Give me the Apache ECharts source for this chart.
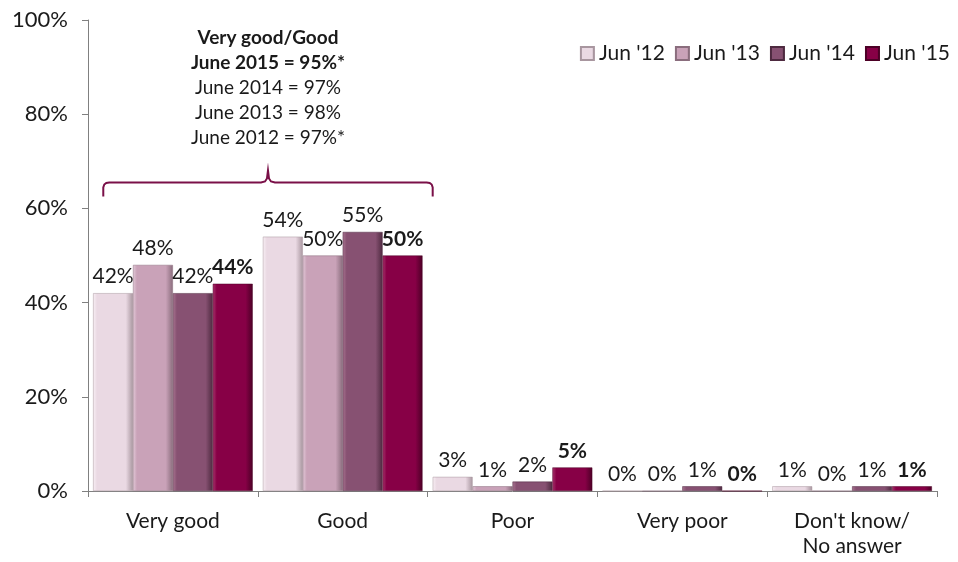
<!DOCTYPE html>
<html>
<head>
<meta charset="utf-8">
<script src="https://cdn.jsdelivr.net/npm/echarts@6/dist/echarts.min.js"></script>
<style>html,body{margin:0;padding:0;background:#fff}#c{width:958px;height:562px}</style>
</head>
<body>
<div id="c"></div>
<script>
const categories = ["Very good", "Good", "Poor", "Very poor", "Don't know/\nNo answer"];
const seriesNames = ["Jun '12", "Jun '13", "Jun '14", "Jun '15"];
const jun12 = [42, 54, 3, 0, 1];
const jun13 = [48, 50, 1, 0, 0];
const jun14 = [42, 55, 2, 1, 1];
const jun15 = [44, 50, 5, 0, 1];
const yTicks = [0, 20, 40, 60, 80, 100];
const noteLines = ["Very good/Good", "June 2015 = 95%*", "June 2014 = 97%", "June 2013 = 98%", "June 2012 = 97%*"];

const FONT = 'Lato';
const palette = [
  {base: '#ead9e3', light: '#f8eff4', dark: '#a8969f'},
  {base: '#c9a2b8', light: '#e2c9d7', dark: '#8a6d7d'},
  {base: '#875172', light: '#a8738f', dark: '#4e2a40'},
  {base: '#870046', light: '#a8336c', dark: '#4c0026'}
];
function grad(p) {
  return new echarts.graphic.LinearGradient(0, 0, 1, 0, [
    {offset: 0, color: p.light},
    {offset: 0.1, color: p.base},
    {offset: 0.82, color: p.base},
    {offset: 1, color: p.dark}
  ]);
}
const allData = [jun12, jun13, jun14, jun15];
const series = allData.map((d, i) => ({
  name: seriesNames[i],
  type: 'bar',
  data: d,
  barGap: '0%',
  barCategoryGap: '6%',
  itemStyle: {color: grad(palette[i]), borderColor: palette[i].dark, borderWidth: 0.5},
  label: {
    show: true, position: 'top', distance: 6,
    formatter: '{c}%', fontFamily: FONT, fontSize: 21,
    fontWeight: i === 3 ? 'bold' : 'normal', color: '#1a1a1a'
  }
}));

const chart = echarts.init(document.getElementById('c'));
chart.setOption({
  animation: false,
  color: palette.map(p => p.base),
  grid: {left: 88, right: 21, top: 20, bottom: 71},
  legend: {
    data: seriesNames, right: 3, top: 38, itemWidth: 13, itemHeight: 13, itemGap: 10,
    icon: 'rect',
    textStyle: {fontFamily: FONT, fontSize: 21, color: '#1a1a1a'}
  },
  xAxis: {
    type: 'category', data: categories,
    axisLine: {lineStyle: {color: '#808080'}},
    axisTick: {show: true, length: 6, lineStyle: {color: '#808080'}},
    axisLabel: {fontFamily: FONT, fontSize: 21, color: '#1a1a1a', margin: 18, lineHeight: 25}
  },
  yAxis: {
    type: 'value', min: 0, max: 100, interval: 20,
    axisLine: {show: true, lineStyle: {color: '#808080'}},
    axisTick: {show: true, length: 6, lineStyle: {color: '#808080'}},
    splitLine: {show: false},
    axisLabel: {fontFamily: FONT, fontSize: 22, color: '#1a1a1a', margin: 20,
      formatter: v => yTicks.includes(v) ? v + '%' : ''}
  },
  series: series
});

// annotation bracket and text, positioned from the axes
const c0 = chart.convertToPixel({xAxisIndex: 0}, categories[0]);
const c1 = chart.convertToPixel({xAxisIndex: 0}, categories[1]);
const band = c1 - c0;
const x0 = c0 - 0.41 * band;
const x1 = c1 + 0.53 * band;
const xc = (x0 + x1) / 2;
const yb = chart.convertToPixel({yAxisIndex: 0}, 65.5);
const col = '#7a1048';
const pts = [
  [x0, yb + 14], [x0, yb + 5], [x0 + 1, yb + 2], [x0 + 3, yb + 0.5], [x0 + 6, yb],
  [xc - 7, yb], [xc - 3, yb - 1], [xc - 1, yb - 4], [xc, yb - 12],
  [xc + 1, yb - 4], [xc + 3, yb - 1], [xc + 7, yb],
  [x1 - 6, yb], [x1 - 3, yb + 0.5], [x1 - 1, yb + 2], [x1, yb + 5], [x1, yb + 14]
];
const texts = noteLines.map((t, i) => ({
  type: 'text',
  x: xc, y: 38 + i * 25,
  style: {text: t, font: (i < 2 ? 'bold ' : '') + '19px ' + FONT,
    fill: '#1a1a1a', textAlign: 'center', textVerticalAlign: 'middle', align: 'center', verticalAlign: 'middle'}
}));
chart.setOption({
  graphic: [
    {type: 'polyline', shape: {points: pts}, style: {stroke: col, lineWidth: 2, fill: null}}
  ].concat(texts)
});
</script>
</body>
</html>
